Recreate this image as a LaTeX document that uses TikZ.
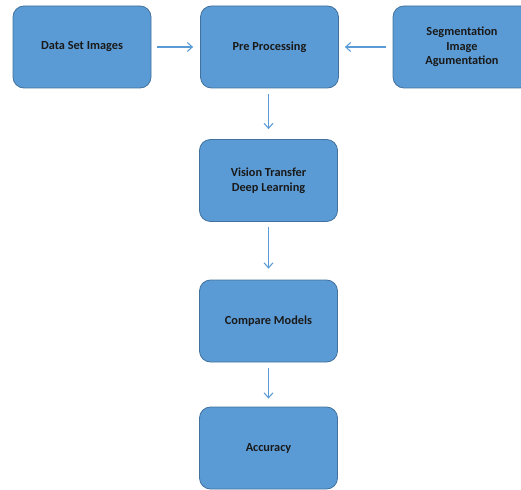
\documentclass[tikz,border=0pt]{standalone}
\usepackage{fontspec}
\setmainfont{Carlito}
\usetikzlibrary{arrows.meta}
\definecolor{boxfill}{HTML}{5B9BD5}
\definecolor{boxline}{HTML}{41719C}
\definecolor{arr}{HTML}{5B9BD5}
\begin{document}
\begin{tikzpicture}[x=1pt,y=-1pt,
  box/.style={draw=boxline, line width=0.8pt, fill=boxfill, rounded corners=11pt,
    minimum width=138pt, minimum height=82pt, align=center,
    font=\fontsize{12.3}{14.5}\selectfont\bfseries, text=black!90, inner sep=0pt},
  conn/.style={draw=arr, line width=1.1pt, -{Straight Barb[length=5pt,width=9pt]}}]
\useasboundingbox (0,0) rectangle (521,489);
\clip (0,0) rectangle (521,489);
\node[box] (data) at (82,47) {Data Set Images};
\node[box] (pre) at (269.5,47) {Pre Processing};
\node[box] (seg) at (462,47) {Segmentation\\Image\\Agumentation};
\node[box] (vis) at (268.5,180.5) {Vision Transfer\\Deep Learning};
\node[box] (cmp) at (268.5,321) {Compare Models};
\node[box] (acc) at (268.5,448) {Accuracy};
\draw[conn] ([xshift=6pt]data.east) -- ([xshift=-7pt]pre.west);
\draw[conn] ([xshift=-7pt]seg.west) -- ([xshift=6pt]pre.east);
\draw[conn] ([yshift=-6pt]pre.south -| vis.north) -- ([yshift=10pt]vis.north);
\draw[conn] ([yshift=-5pt]vis.south) -- ([yshift=11pt]cmp.north);
\draw[conn] ([yshift=-6pt]cmp.south) -- ([yshift=8pt]acc.north);
\end{tikzpicture}
\end{document}
